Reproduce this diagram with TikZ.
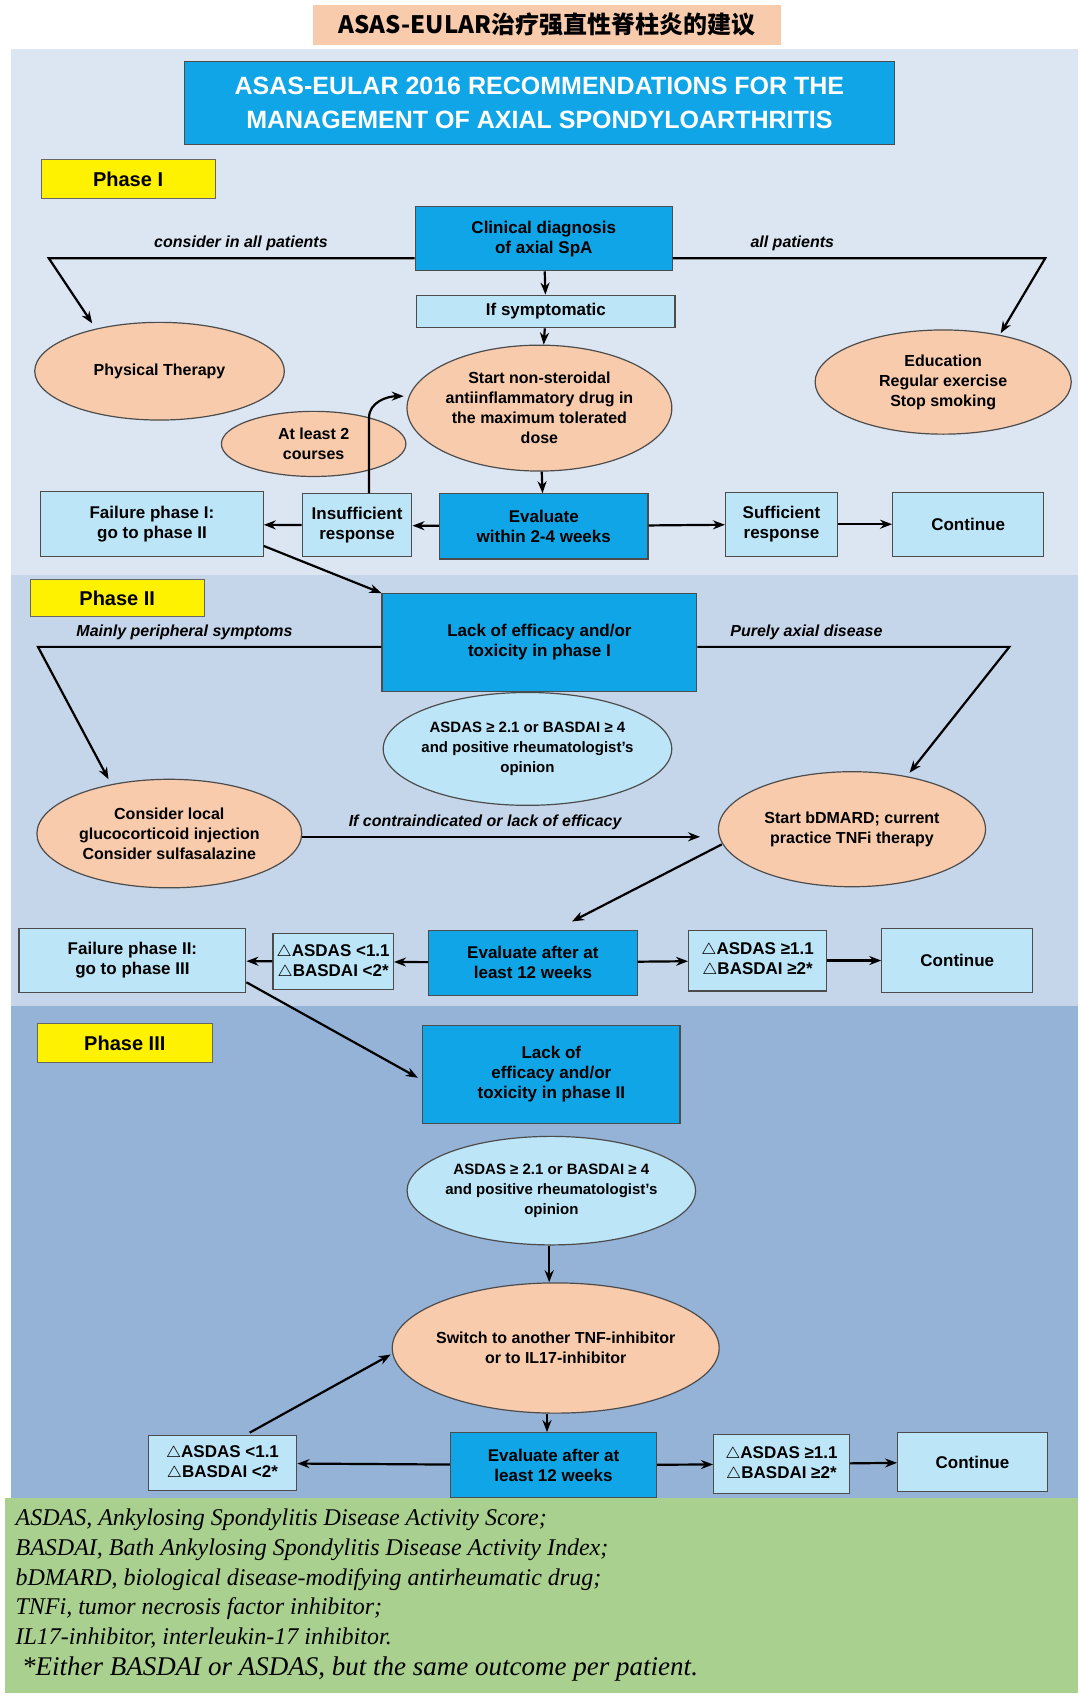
\documentclass[tikz,border=0pt]{standalone}
\usepackage{fontspec}
\setmainfont{Liberation Sans}
\newfontfamily\cjk{Noto Sans CJK SC}
\newfontfamily\fserif{Liberation Serif}
\usetikzlibrary{shapes.geometric,arrows.meta}
\definecolor{bgA}{HTML}{DCE6F2}
\definecolor{bgB}{HTML}{C6D6EA}
\definecolor{bgC}{HTML}{95B3D7}
\definecolor{bgG}{HTML}{A9D08E}
\definecolor{dkb}{HTML}{0FA5E6}
\definecolor{ltb}{HTML}{BDE5F8}
\definecolor{org}{HTML}{F8CBAD}
\definecolor{tag}{HTML}{F8CBAD}
\begin{document}
\begin{tikzpicture}[x=0.5425pt,y=-0.5425pt,
 box/.style={draw=black!70,line width=0.6pt,font=\bfseries\fontsize{8.5}{10}\selectfont,align=center,inner sep=1pt},
 dk/.style={box,fill=dkb},
 lt/.style={box,fill=ltb},
 ell/.style={ellipse,draw=black!70,line width=0.6pt,fill=org,font=\bfseries\fontsize{8}{10}\selectfont,align=center,inner sep=-2pt},
 ellb/.style={ell,fill=ltb,font=\bfseries\fontsize{7.5}{10}\selectfont},
 ph/.style={draw=black!60,fill=yellow,font=\bfseries\fontsize{10}{12}\selectfont,inner sep=0pt},
 ar/.style={-{Stealth[length=6pt]},line width=1.1pt},
 ln/.style={line width=1.1pt},
 lab/.style={font=\bfseries\itshape\fontsize{8}{10}\selectfont}]
\useasboundingbox (0,0) rectangle (995,1570);
\fill[white] (0,0) rectangle (995,1570);
\fill[bgA] (10,45) rectangle (993,530);
\fill[bgB] (10,530) rectangle (993,927);
\fill[bgC] (10,927) rectangle (993,1380);
\fill[bgG] (5,1380) rectangle (993,1560);
\node[fill=tag,minimum width=432*0.5425pt,minimum height=37*0.5425pt,font=\cjk\bfseries\fontsize{12}{14}\selectfont] (tt) at (504,23) {ASAS-EULAR治疗强直性脊柱炎的建议};
\node[draw=black!70,fill=dkb,text=white,minimum width=655*0.5425pt,minimum height=76*0.5425pt,align=center,font=\bfseries\fontsize{12.5}{17}\selectfont] (hd) at (497,95) {ASAS-EULAR 2016 RECOMMENDATIONS FOR THE\\MANAGEMENT OF AXIAL SPONDYLOARTHRITIS};
% Phase I
\node[ph,minimum width=160*0.5425pt,minimum height=36*0.5425pt] (p1) at (118,165) {Phase I};
\node[dk,minimum width=237*0.5425pt,minimum height=59*0.5425pt] (cd) at (501,220) {Clinical diagnosis\\of axial SpA};
\node[lt,minimum width=238*0.5425pt,minimum height=30*0.5425pt] (sy) at (503,287) {If symptomatic};
\node[ell,minimum width=230*0.5425pt,minimum height=90*0.5425pt] (pt) at (147,342) {Physical Therapy};
\node[ell,minimum width=236*0.5425pt,minimum height=96*0.5425pt] (ed) at (869,352) {Education\\Regular exercise\\Stop smoking};
\node[ell,minimum width=244*0.5425pt,minimum height=116*0.5425pt] (ns) at (497,376) {Start non-steroidal\\antiinflammatory drug in\\the maximum tolerated\\dose};
\node[ell,minimum width=170*0.5425pt,minimum height=60*0.5425pt] (al) at (289,409) {At least 2\\courses};
\node[dk,minimum width=192*0.5425pt,minimum height=60*0.5425pt] (ev1) at (501,485) {Evaluate\\within 2-4 weeks};
\node[lt,minimum width=101*0.5425pt,minimum height=58*0.5425pt] (in1) at (329,484) {Insufficient\\response};
\node[lt,minimum width=205*0.5425pt,minimum height=60*0.5425pt] (f1) at (140,483) {Failure phase I:\\go to phase II};
\node[lt,minimum width=103*0.5425pt,minimum height=59*0.5425pt] (su1) at (720,483) {Sufficient\\response};
\node[lt,minimum width=139*0.5425pt,minimum height=59*0.5425pt] (c1) at (892,483) {Continue};
\coordinate (l1) at (45,238); \coordinate (r1) at (963,238);
\draw[ar] (cd.west |- 0,238) -- (l1) -- (85,298);
\draw[ar] (cd.east |- 0,238) -- (r1) -- (922,307);
\node[lab,above] at (222,238) {consider in all patients};
\node[lab,above] at (730,238) {all patients};
\draw[ar] (cd) -- (sy); \draw[ar] (sy) -- (ns);
\draw[ar] (ns) -- (ev1); \draw[ar] (ev1) -- (in1); \draw[ar] (in1) -- (f1);
\draw[ar] (ev1) -- (su1); \draw[ar] (su1) -- (c1);
\draw[ar] (in1.north -| 340,0) -- (340,385) to[out=90,in=180] (372,365);
% Phase II
\node[ph,minimum width=160*0.5425pt,minimum height=34*0.5425pt] (p2) at (108,551) {Phase II};
\node[dk,minimum width=290*0.5425pt,minimum height=90*0.5425pt] (le1) at (497,592) {Lack of efficacy and/or\\toxicity in phase I};
\draw[ar] (243,503) -- (le1.north west);
\node[ellb,minimum width=244*0.5425pt,minimum height=104*0.5425pt] (as1) at (486,690) {ASDAS ≥ 2.1 or BASDAI ≥ 4\\and positive rheumatologist's\\opinion};
\node[ell,minimum width=244*0.5425pt,minimum height=100*0.5425pt] (cl) at (156,768) {Consider local\\glucocorticoid injection\\Consider sulfasalazine};
\node[ell,minimum width=246*0.5425pt,minimum height=106*0.5425pt] (bd) at (785,764) {Start bDMARD; current\\practice TNFi therapy};
\draw[ar] (le1.west |- 0,596) -- (35,596) -- (100,718);
\draw[ar] (le1.east |- 0,596) -- (930,596) -- (838,712);
\node[lab,above] at (170,596) {Mainly peripheral symptoms};
\node[lab,above] at (743,596) {Purely axial disease};
\draw[ar] (cl.east |- 0,771) -- (645,771);
\node[lab,above] at (447,771) {If contraindicated or lack of efficacy};
\node[dk,minimum width=192*0.5425pt,minimum height=60*0.5425pt] (ev2) at (491,887) {Evaluate after at\\least 12 weeks};
\draw[ar] (665,778) -- (527,849);
\node[lt,minimum width=111*0.5425pt,minimum height=52*0.5425pt] (d1) at (307,886) {$\triangle$ASDAS <1.1\\$\triangle$BASDAI <2*};
\node[lt,minimum width=209*0.5425pt,minimum height=59*0.5425pt] (f2) at (122,885) {Failure phase II:\\go to phase III};
\node[lt,minimum width=127*0.5425pt,minimum height=56*0.5425pt] (d2) at (698,885) {$\triangle$ASDAS ≥1.1\\$\triangle$BASDAI ≥2*};
\node[lt,minimum width=139*0.5425pt,minimum height=59*0.5425pt] (c2) at (882,885) {Continue};
\draw[ar] (ev2) -- (d1); \draw[ar] (d1) -- (f2); \draw[ar] (ev2) -- (d2); \draw[ar] (d2) -- (c2);
% Phase III
\node[ph,minimum width=161*0.5425pt,minimum height=36*0.5425pt] (p3) at (115,961) {Phase III};
\node[dk,minimum width=237*0.5425pt,minimum height=91*0.5425pt] (le2) at (508,990) {Lack of\\efficacy and/or\\toxicity in phase II};
\draw[ar] (227,905) -- (385,993);
\node[ellb,minimum width=244*0.5425pt,minimum height=100*0.5425pt] (as2) at (508,1097) {ASDAS ≥ 2.1 or BASDAI ≥ 4\\and positive rheumatologist's\\opinion};
\node[ell,minimum width=300*0.5425pt,minimum height=120*0.5425pt] (sw) at (512,1242) {Switch to another TNF-inhibitor\\or to IL17-inhibitor};
\draw[ar] (as2.south -| 506,0) -- (sw.north -| 506,0);
\node[dk,minimum width=190*0.5425pt,minimum height=60*0.5425pt] (ev3) at (510,1350) {Evaluate after at\\least 12 weeks};
\draw[ar] (sw.south -| 504,0) -- (ev3.north -| 504,0);
\node[lt,minimum width=137*0.5425pt,minimum height=51*0.5425pt] (d3) at (205,1348) {$\triangle$ASDAS <1.1\\$\triangle$BASDAI <2*};
\node[lt,minimum width=125*0.5425pt,minimum height=54*0.5425pt] (d4) at (720,1349) {$\triangle$ASDAS ≥1.1\\$\triangle$BASDAI ≥2*};
\node[lt,minimum width=138*0.5425pt,minimum height=55*0.5425pt] (c3) at (896,1347) {Continue};
\draw[ar] (ev3) -- (d3); \draw[ar] (ev3) -- (d4); \draw[ar] (d4) -- (c3);
\draw[ar] (230,1320) -- (360,1248);
% footer
\begin{scope}[every node/.style={anchor=west,font=\fserif\itshape\fontsize{12}{14}\selectfont,inner sep=0pt}]
\node (n1) at (14,1400) {ASDAS, Ankylosing Spondylitis Disease Activity Score;};
\node (n2) at (14,1428) {BASDAI, Bath Ankylosing Spondylitis Disease Activity Index;};
\node (n3) at (14,1455) {bDMARD, biological disease-modifying antirheumatic drug;};
\node (n4) at (14,1482) {TNFi, tumor necrosis factor inhibitor;};
\node (n5) at (14,1509) {IL17-inhibitor, interleukin-17 inhibitor.};
\node[font=\fserif\itshape\fontsize{13.5}{15}\selectfont] (n6) at (20,1538) {*Either BASDAI or ASDAS, but the same outcome per patient.};
\end{scope}
\end{tikzpicture}
\end{document}
